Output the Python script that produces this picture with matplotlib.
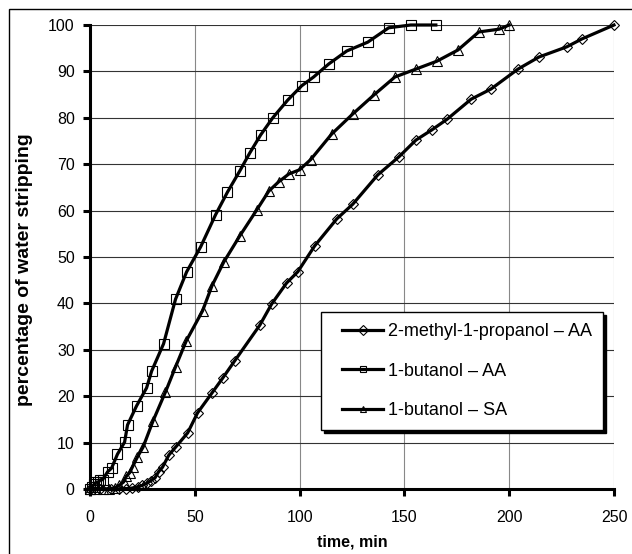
import matplotlib
matplotlib.use('Agg')
import matplotlib.pyplot as plt
from matplotlib.patches import Rectangle
from matplotlib.legend_handler import HandlerLine2D

plt.rcParams['font.family'] = ['Liberation Sans', 'DejaVu Sans']

# 2-methyl-1-propanol - AA (diamonds)
t_mp_aa = [0, 5, 10, 14, 17, 20, 23, 25, 27, 29, 31, 32.7, 34.6, 37.6, 40.8,
           46.6, 51.3, 58.2, 63.3, 69, 81, 86.7, 93.8, 99.1, 107.2, 117.7,
           125.4, 137.3, 147.4, 155.5, 163.1, 170.4, 181.8, 191.3, 204.2,
           214.2, 227.5, 234.7, 250]
v_mp_aa = [0, 0, 0, 0, 0, 0.2, 0.5, 0.8, 1.2, 1.8, 2.4, 3.7, 4.7, 7.3, 9,
           12.1, 16.4, 20.7, 23.9, 27.6, 35.3, 39.9, 44.4, 46.8, 52.4, 58.2,
           61.4, 67.7, 71.6, 75.2, 77.4, 79.7, 84, 86.2, 90.5,
           93.1, 95.3, 97, 100]

# 1-butanol - AA (squares)
t_bu_aa = [0, 1, 2, 3, 4, 5, 6, 8.4, 10.3, 13.1, 16.5, 17.9, 22.2, 27, 29.4,
           35.1, 40.8, 46.1, 52.8, 59.9, 65.6, 71.4, 76.2, 81.4, 87.2, 94.3,
           101, 106.7, 113.9, 122.5, 132.5, 142.5, 153, 165]
v_bu_aa = [0, 0.5, 1, 1.5, 1.5, 2, 2, 3.7, 4.5, 7.5, 10.1, 13.8, 17.9, 21.8,
           25.4, 31.3, 40.9, 46.8, 52.2, 59.1, 64, 68.5, 72.4, 76.3, 80, 83.8,
           86.9, 88.8, 91.6, 94.4, 96.3, 99.4, 100, 100]

# 1-butanol - SA (triangles)
t_bu_sa = [0, 3, 6, 9, 12, 14, 16, 17.4, 18.9, 20.3, 22.5, 25.3, 30.1, 36,
           40.8, 45.9, 53.7, 58.2, 63.8, 71.4, 79.5, 85.3, 90, 94.9, 100,
           105.3, 115.3, 125.3, 135.4, 145.5, 155.5, 165.5, 175.5, 185.5,
           195.2, 200]
v_bu_sa = [0, 0, 0, 0, 0.3, 0.8, 1.5, 2.8, 3.5, 4.8, 6.8, 9, 14.7, 20.9,
           26.3, 31.9, 38.4, 43.8, 48.9, 54.5, 60.1, 64.2, 66.2, 67.9, 68.8,
           71, 76.5, 80.8, 84.9, 88.8, 90.5, 92.2, 94.6, 98.5,
           99.1, 100]

labels = ['2-methyl-1-propanol \u2013 AA', '1-butanol \u2013 AA',
          '1-butanol \u2013 SA']

fig = plt.figure(figsize=(6.32, 5.54), dpi=100)
ax = fig.add_axes([90 / 632, 1 - 489 / 554, 524 / 632, 464 / 554])

# outer chart frame (runs off the right and bottom edges)
fig.patches.append(Rectangle((9 / 632, -0.2), 1.2, 1.2 - 9 / 554,
                             transform=fig.transFigure, fill=False,
                             edgecolor='black', lw=1, clip_on=False))

common = dict(color='black', lw=2.3, markerfacecolor='none',
              markeredgecolor='black', markeredgewidth=0.8, clip_on=False,
              zorder=3)
ax.plot(t_mp_aa, v_mp_aa, marker='D', markersize=5, label=labels[0], **common)
ax.plot(t_bu_aa, v_bu_aa, marker='s', markersize=6.5, label=labels[1], **common)
ax.plot(t_bu_sa, v_bu_sa, marker='^', markersize=7, label=labels[2], **common)

ax.set_xlim(0, 250)
ax.set_ylim(0, 100)
ax.set_xticks(range(0, 251, 50))
ax.set_yticks(range(0, 101, 10))

ax.grid(axis='y', color='#333333', lw=0.8)
ax.grid(axis='x', color='#888888', lw=0.8)
ax.set_axisbelow(True)

for s in ['top', 'right']:
    ax.spines[s].set_visible(False)
for s in ['left', 'bottom']:
    ax.spines[s].set_linewidth(2.2)

ax.tick_params(axis='both', direction='out', length=5, width=2.2,
               labelsize=11.5)
ax.tick_params(axis='x', pad=10)
ax.tick_params(axis='y', pad=6)

ax.set_xlabel('time, min', fontsize=11.5, fontweight='bold')
ax.set_ylabel('percentage of water stripping', fontsize=14, fontweight='bold')
ax.xaxis.set_label_coords(0.5, -0.097)
ax.yaxis.set_label_coords(-0.109, 0.472)

leg = ax.legend(loc='upper left', bbox_to_anchor=(0.441, 0.381),
                borderaxespad=0, fontsize=13, frameon=True, fancybox=False,
                shadow={'color': 'black', 'alpha': 1},
                handlelength=2.85, labelspacing=1.25, borderpad=0.6,
                handletextpad=0.25,
                handler_map={plt.Line2D: HandlerLine2D(xpad=0.55)})
leg.get_frame().set_edgecolor('black')
leg.get_frame().set_linewidth(1)
leg.get_frame().set_alpha(1)
for line in leg.get_lines():
    line.set_markersize(5)

fig.savefig('out.png', dpi=100)
